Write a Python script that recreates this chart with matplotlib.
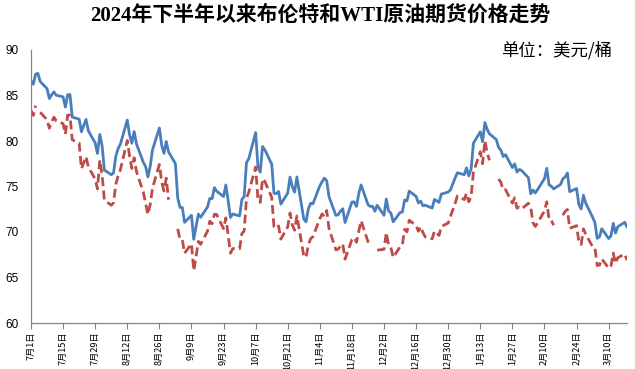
"""Brent vs WTI front-month futures, 2024H2 to Mar 2025 (daily settle)."""
import matplotlib
matplotlib.use('Agg')
import matplotlib.pyplot as plt
import numpy as np
import pandas as pd

plt.rcParams['font.family'] = ['Noto Sans CJK SC', 'DejaVu Sans']

# trading days (ICE Brent calendar); both markets closed on these
start, end = '2024-07-01', '2025-03-18'
closed = ['2024-12-25', '2025-01-01']

# Brent, USD/bbl, month by month
brent_jul = [86.60, 86.24, 87.34, 87.43, 86.54, 85.75, 84.66, 85.08, 85.40, 85.03, 84.85, 83.73,
             85.08, 85.11, 82.63, 82.40, 81.01, 81.71, 82.37, 81.13, 79.78, 78.63, 80.72]
brent_aug = [79.52, 76.81, 76.30, 76.48, 78.33, 79.16, 79.66, 82.30, 80.69, 79.76, 81.04, 79.68,
             77.66, 77.20, 76.05, 77.22, 79.02, 81.43, 79.55, 78.65, 79.94, 78.80]
brent_sep = [77.52, 73.75, 72.70, 72.69, 71.06, 71.84, 69.19, 70.61, 71.97, 71.61, 72.75, 73.70,
             73.65, 74.88, 74.49, 73.90, 75.17, 73.46, 71.60, 71.98, 71.77]
brent_oct = [73.56, 73.90, 77.62, 78.05, 80.93, 77.18, 76.58, 79.40, 79.04, 77.46, 74.25, 74.22,
             74.45, 73.06, 74.29, 76.04, 74.96, 74.38, 76.05, 71.42, 71.12, 72.55, 73.16]
brent_nov = [73.10, 75.08, 75.53, 75.92, 75.63, 73.87, 71.83, 71.89, 72.28, 72.56, 71.04, 73.30,
             73.31, 72.81, 74.23, 75.17, 73.01, 72.81, 72.83, 72.28, 72.94]
brent_dec = [71.83, 73.62, 72.31, 72.09, 71.12, 72.14, 72.19, 73.52, 73.41, 74.49, 73.91, 73.19,
             73.39, 72.88, 72.94, 72.63, 73.58, 73.26, 74.17, 74.39, 74.64]
brent_jan = [75.93, 76.51, 76.30, 77.05, 76.16, 76.92, 79.76, 81.01, 79.92, 82.03, 81.29, 80.79,
             80.15, 79.29, 79.00, 78.29, 78.50, 77.08, 77.49, 76.58, 76.87, 76.76]
brent_feb = [75.96, 74.20, 74.61, 74.29, 74.66, 75.87, 77.00, 75.18, 75.02, 74.74, 75.22, 75.84,
             76.04, 76.48, 74.43, 74.78, 73.02, 72.53, 74.04, 73.18]
brent_mar = [71.62, 71.04, 69.30, 69.46, 70.36, 69.28, 69.56, 70.95, 69.88, 70.58, 71.07, 70.56]

# WTI, USD/bbl; None = NYMEX closed (US holidays)
wti_jul = [83.38, 82.81, 83.88, None, 83.16, 82.33, 81.41, 82.10, 82.62, 82.21, 81.91, 80.76,
           82.85, 82.82, 80.13, 79.78, 76.96, 77.59, 78.28, 77.16, 75.81, 74.73, 77.91]
wti_aug = [76.31, 73.52, 72.94, 73.20, 75.23, 76.19, 76.84, 80.06, 78.35, 76.98, 78.16, 76.65,
           74.37, 73.17, 71.93, 73.01, 74.83, 77.42, 75.53, 74.52, 75.91, 73.55]
wti_sep = [None, 70.34, 69.20, 69.15, 67.67, 68.71, 65.75, 67.31, 68.97, 68.65, 70.09, 71.19,
           70.91, 71.95, 71.92, 70.37, 71.56, 69.69, 67.67, 68.18, 68.17]
wti_oct = [69.83, 70.10, 73.71, 74.38, 77.14, 73.57, 73.24, 75.85, 75.56, 73.83, 70.58, 70.39,
           70.67, 69.22, 70.56, 72.09, 70.77, 70.19, 71.78, 67.38, 67.21, 68.61, 69.26]
wti_nov = [69.49, 71.47, 71.99, 71.69, 72.36, 70.38, 68.04, 68.12, 68.43, 68.70, 67.02, 69.16,
           69.39, 68.87, 70.10, 71.24, 68.94, 68.77, 68.72, None, 68.00]
wti_dec = [68.10, 69.94, 68.54, 68.30, 67.20, 68.37, 68.59, 70.29, 70.02, 71.29, 70.71, 70.08,
           70.58, 69.91, 69.46, 69.24, 70.10, 69.62, 70.60, 70.99, 71.72]
wti_jan = [73.13, 73.96, 73.56, 74.25, 73.32, 73.92, 76.57, 78.82, 77.50, 80.04, 78.68, 77.88,
           None, 75.83, 75.44, 74.62, 74.66, 73.17, 73.77, 72.62, 72.73, 72.53]
wti_feb = [73.16, 72.70, 71.03, 70.61, 71.00, 72.32, 73.32, 71.37, 71.29, 70.74, None, 71.85,
           72.25, 72.48, 70.40, 70.70, 68.93, 68.62, 70.35, 69.76]
wti_mar = [68.37, 68.26, 66.31, 66.36, 67.04, 66.03, 66.25, 67.68, 66.55, 67.18, 67.58, 66.90]

TITLE = '2024年下半年以来布伦特和WTI原油期货价格走势'
UNIT = '单位：美元/桶'
BLUE = '#4a7ebb'
RED = '#be4b48'
GREY = '#868686'


def main():
    dates = pd.bdate_range(start, end)
    dates = dates[~dates.isin(pd.to_datetime(closed))]
    brent = np.array(brent_jul + brent_aug + brent_sep + brent_oct + brent_nov
                     + brent_dec + brent_jan + brent_feb + brent_mar, dtype=float)
    wti = np.array(wti_jul + wti_aug + wti_sep + wti_oct + wti_nov
                   + wti_dec + wti_jan + wti_feb + wti_mar, dtype=float)
    assert len(dates) == len(brent) == len(wti)

    fig = plt.figure(figsize=(6.35, 3.69), dpi=100)
    ax = fig.add_axes([31 / 635, 1 - 323 / 369, 596 / 635, 273 / 369])

    ax.plot(dates, brent, color=BLUE, lw=2.0, solid_joinstyle='round')
    ax.plot(dates, wti, color=RED, lw=2.0, dashes=(3.2, 1.6))

    ax.set_xlim(dates[0], dates[-1])
    ax.set_ylim(60, 90)
    ax.set_yticks(np.arange(60, 91, 5))

    ticks = pd.date_range(start, end, freq='14D')
    ax.set_xticks(ticks)
    ax.set_xticklabels([f'{d.month}月{d.day}日' for d in ticks], rotation=90, fontsize=6.6)
    for lab in ax.get_yticklabels():
        lab.set_family(['Liberation Sans', 'DejaVu Sans'])
        lab.set_fontsize(8.5)

    ax.tick_params(axis='x', direction='out', length=4, width=0.8, color=GREY, pad=2)
    ax.tick_params(axis='y', length=0, pad=9)
    for s in ('top', 'right'):
        ax.spines[s].set_visible(False)
    for s in ('left', 'bottom'):
        ax.spines[s].set_color(GREY)
        ax.spines[s].set_linewidth(0.9)

    fig.text(0.504, 1 - 16 / 369, TITLE, ha='center', va='center', fontsize=15,
             fontweight='bold', family=['Liberation Serif', 'Noto Sans CJK SC'])
    fig.text(612 / 635, 1 - 50 / 369, UNIT, ha='right', va='center', fontsize=12.5)

    fig.savefig('out.png', dpi=100)
    plt.close(fig)


if __name__ == '__main__':
    main()
